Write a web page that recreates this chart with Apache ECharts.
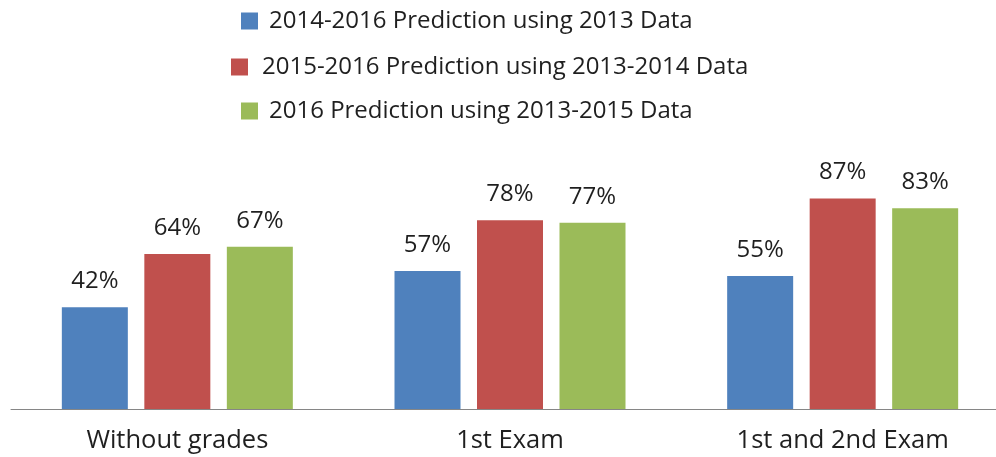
<!DOCTYPE html>
<html>
<head>
<meta charset="utf-8">
<script src="https://cdn.jsdelivr.net/npm/echarts@6/dist/echarts.min.js"></script>
<style>
  html, body { margin: 0; padding: 0; background: #fff; overflow: hidden; }
  /* the plot runs a little past the right edge, as in the original */
  #main { width: 1010px; height: 457px; }
</style>
</head>
<body>
<div id="main"></div>
<script>
// data
var categories = ['Without grades', '1st Exam', '1st and 2nd Exam'];
var seriesNames = [
    '2014-2016 Prediction using 2013 Data',
    '2015-2016 Prediction using 2013-2014 Data',
    '2016 Prediction using 2013-2015 Data'
];
var pred2013 = [42, 57, 55];
var pred2013to2014 = [64, 78, 87];
var pred2013to2015 = [67, 77, 83];

var colors = ['#4F81BD', '#C0504D', '#9BBB59'];
var font = '"Open Sans", sans-serif';

var chart = echarts.init(document.getElementById('main'), null, { renderer: 'canvas' });

function legendAt(name, left, top, gap) {
    return {
        data: [name],
        left: left,
        top: top,
        padding: 0,
        itemWidth: 17,
        itemHeight: 17,
        itemGap: 0,
        icon: 'rect',
        textStyle: { fontFamily: font, fontSize: 24, color: '#1f1f1f', padding: [0, 0, 0, gap] }
    };
}

function barSeries(name, values, color) {
    return {
        name: name,
        type: 'bar',
        data: values,
        barWidth: 66,
        barGap: '25%',
        itemStyle: { color: color },
        label: {
            show: true,
            position: 'top',
            distance: 14,
            formatter: '{c}%',
            fontFamily: font,
            fontSize: 24,
            color: '#1f1f1f'
        }
    };
}

var option = {
    animation: false,
    color: colors,
    legend: [
        legendAt(seriesNames[0], 241, 9, 6),
        legendAt(seriesNames[1], 231, 55, 9),
        legendAt(seriesNames[2], 241, 99, 6)
    ],
    grid: {
        left: 11,
        top: 167,
        width: 998,
        height: 242,
        containLabel: false
    },
    xAxis: {
        type: 'category',
        data: categories,
        axisLine: { lineStyle: { color: '#868686', width: 1 } },
        axisTick: { show: false },
        axisLabel: {
            margin: 19,
            fontFamily: font,
            fontSize: 25.5,
            color: '#1f1f1f'
        }
    },
    yAxis: {
        type: 'value',
        min: 0,
        max: 100,
        show: false,
        splitLine: { show: false }
    },
    series: [
        barSeries(seriesNames[0], pred2013, colors[0]),
        barSeries(seriesNames[1], pred2013to2014, colors[1]),
        barSeries(seriesNames[2], pred2013to2015, colors[2])
    ]
};

chart.setOption(option);
</script>
</body>
</html>
